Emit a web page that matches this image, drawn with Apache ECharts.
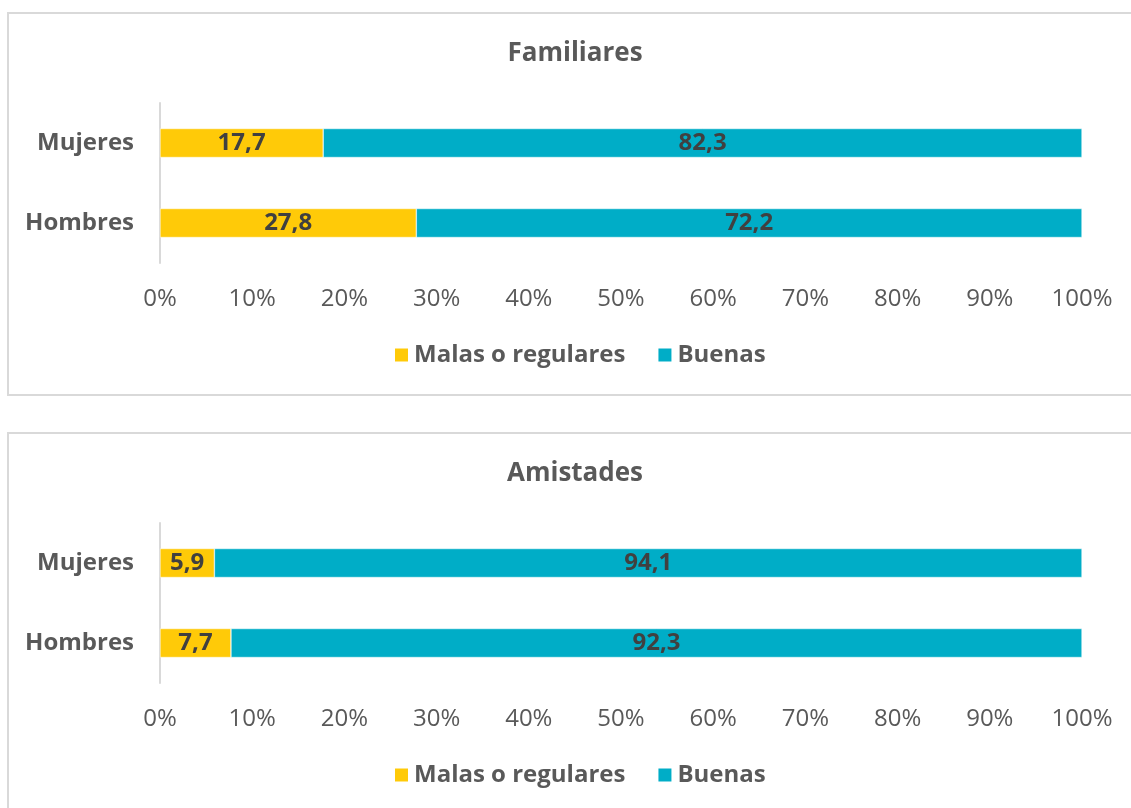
<!DOCTYPE html>
<html>
<head>
<meta charset="UTF-8" />
<title>Relaciones familiares y de amistad</title>
<style>
  html, body { margin: 0; padding: 0; background: #fff; }
  #chart { width: 1131px; height: 808px; }
</style>
<script src="https://cdn.jsdelivr.net/npm/echarts@6/dist/echarts.min.js"></script>
</head>
<body>
<div id="chart"></div>
<script>
var categories = ["Hombres", "Mujeres"];
var panelTitles = ["Familiares", "Amistades"];
var seriesNames = ["Malas o regulares", "Buenas"];
// [Hombres, Mujeres]
var familiaresMalas = [27.8, 17.7];
var familiaresBuenas = [72.2, 82.3];
var amistadesMalas = [7.7, 5.9];
var amistadesBuenas = [92.3, 94.1];

var FONT = "'Open Sans', 'Noto Sans', sans-serif";
var colors = ["#FFCA08", "#00ADC7"];
var gridTops = [103, 523];

var chart = echarts.init(document.getElementById("chart"));

function fmt(v) { return String(v).replace(".", ","); }

function barSeries(name, data, idx, color) {
  return {
    name: name,
    type: "bar",
    stack: "s" + idx,
    xAxisIndex: idx,
    yAxisIndex: idx,
    barWidth: 29,
    data: data,
    itemStyle: { color: color, borderColor: "#fff", borderWidth: 0.5 },
    label: {
      show: true,
      position: "inside",
      formatter: function (p) { return fmt(p.value); },
      fontFamily: FONT,
      fontWeight: "bold",
      fontSize: 24,
      color: "#404040"
    }
  };
}

var option = {
  animation: false,
  color: colors,
  title: panelTitles.map(function (t, i) {
    return {
      text: t,
      left: 570,
      textAlign: "center",
      top: gridTops[i] - 67,
      textStyle: { fontFamily: FONT, fontWeight: "bold", fontSize: 26, color: "#595959" }
    };
  }),
  legend: gridTops.map(function (t) {
    return {
      data: seriesNames,
      left: 393,
      top: t + 240,
      padding: 0,
      itemWidth: 15,
      itemHeight: 15,
      itemGap: 31,
      icon: "rect",
      textStyle: { fontFamily: FONT, fontWeight: "bold", fontSize: 24, color: "#595959" }
    };
  }),
  grid: gridTops.map(function (t) {
    return { left: 160, right: 49, top: t, height: 160 };
  }),
  xAxis: gridTops.map(function (t, i) {
    return {
      type: "value",
      gridIndex: i,
      min: 0,
      max: 100,
      interval: 10,
      axisLine: { show: false },
      axisTick: { show: false },
      splitLine: { show: false },
      axisLabel: {
        formatter: "{value}%",
        fontFamily: FONT,
        fontSize: 24,
        color: "#595959",
        margin: 24
      }
    };
  }),
  yAxis: gridTops.map(function (t, i) {
    return {
      type: "category",
      gridIndex: i,
      data: categories,
      axisLine: { show: true, lineStyle: { color: "#D9D9D9", width: 2 } },
      axisTick: { show: false },
      axisLabel: {
        fontFamily: FONT,
        fontWeight: "bold",
        fontSize: 24,
        color: "#595959",
        margin: 26
      }
    };
  }),
  series: [
    barSeries(seriesNames[0], familiaresMalas, 0, colors[0]),
    barSeries(seriesNames[1], familiaresBuenas, 0, colors[1]),
    barSeries(seriesNames[0], amistadesMalas, 1, colors[0]),
    barSeries(seriesNames[1], amistadesBuenas, 1, colors[1])
  ],
  graphic: [
    { type: "rect", shape: { x: 8, y: 13, width: 1140, height: 382 },
      style: { fill: "none", stroke: "#D9D9D9", lineWidth: 2 }, silent: true },
    { type: "rect", shape: { x: 8, y: 433, width: 1140, height: 400 },
      style: { fill: "none", stroke: "#D9D9D9", lineWidth: 2 }, silent: true }
  ]
};

chart.setOption(option);
</script>
</body>
</html>
